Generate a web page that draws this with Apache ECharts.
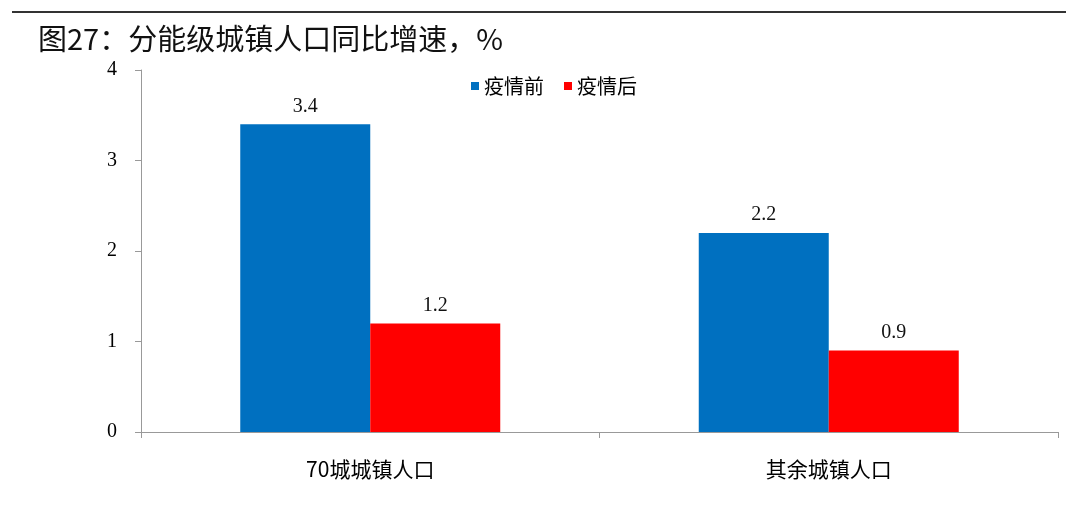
<!DOCTYPE html>
<html>
<head>
<meta charset="utf-8">
<script src="https://cdn.jsdelivr.net/npm/echarts@6/dist/echarts.min.js"></script>
<style>
  html, body { margin: 0; padding: 0; background: #fff; }
  #chart { width: 1080px; height: 508px; }
</style>
</head>
<body>
<div id="chart"></div>
<script>
var categories = ['70城城镇人口', '其余城镇人口'];
var before = [3.4, 2.2];
var after = [1.2, 0.9];
var yTicks = [0, 4, 1];

var chart = echarts.init(document.getElementById('chart'));

var valueLabel = {
  show: true,
  position: 'top',
  distance: 8,
  fontFamily: 'Liberation Serif',
  fontSize: 20,
  color: '#111',
  formatter: function (p) { return p.value.toFixed(1); }
};

chart.setOption({
  animation: false,
  backgroundColor: '#fff',
  title: {
    text: '图27：分能级城镇人口同比增速，%',
    left: 33,
    top: 19,
    textStyle: {
      fontFamily: 'Noto Sans CJK SC',
      fontSize: 29,
      fontWeight: 'normal',
      color: '#111'
    }
  },
  graphic: [{
    type: 'line',
    shape: { x1: 12, y1: 12, x2: 1066, y2: 12 },
    style: { stroke: '#333', lineWidth: 2 }
  }],
  legend: {
    top: 71,
    left: 466,
    itemWidth: 8,
    itemHeight: 8,
    itemGap: 20,
    icon: 'rect',
    textStyle: {
      fontFamily: 'Noto Sans CJK SC',
      fontSize: 20,
      color: '#000'
    },
    data: ['疫情前', '疫情后']
  },
  grid: {
    left: 141,
    right: 22,
    top: 70,
    bottom: 76,
    containLabel: false
  },
  xAxis: {
    type: 'category',
    data: categories,
    axisLine: { lineStyle: { color: '#999', width: 1 } },
    axisTick: { show: true, length: 6, lineStyle: { color: '#999' } },
    axisLabel: {
      margin: 27,
      fontFamily: 'Noto Sans CJK SC',
      fontSize: 21,
      color: '#000'
    }
  },
  yAxis: {
    type: 'value',
    min: yTicks[0],
    max: yTicks[1],
    interval: yTicks[2],
    axisLine: { show: true, lineStyle: { color: '#999', width: 1 } },
    axisTick: { show: true, length: 6, lineStyle: { color: '#999' } },
    splitLine: { show: false },
    axisLabel: {
      margin: 24,
      fontFamily: 'Liberation Serif',
      fontSize: 20,
      color: '#000'
    }
  },
  series: [{
    name: '疫情前',
    type: 'bar',
    data: before,
    barWidth: 130,
    barGap: '0%',
    itemStyle: { color: '#0070C0' },
    label: valueLabel
  }, {
    name: '疫情后',
    type: 'bar',
    data: after,
    barWidth: 130,
    barGap: '0%',
    itemStyle: { color: '#FF0000' },
    label: valueLabel
  }]
});
</script>
</body>
</html>
